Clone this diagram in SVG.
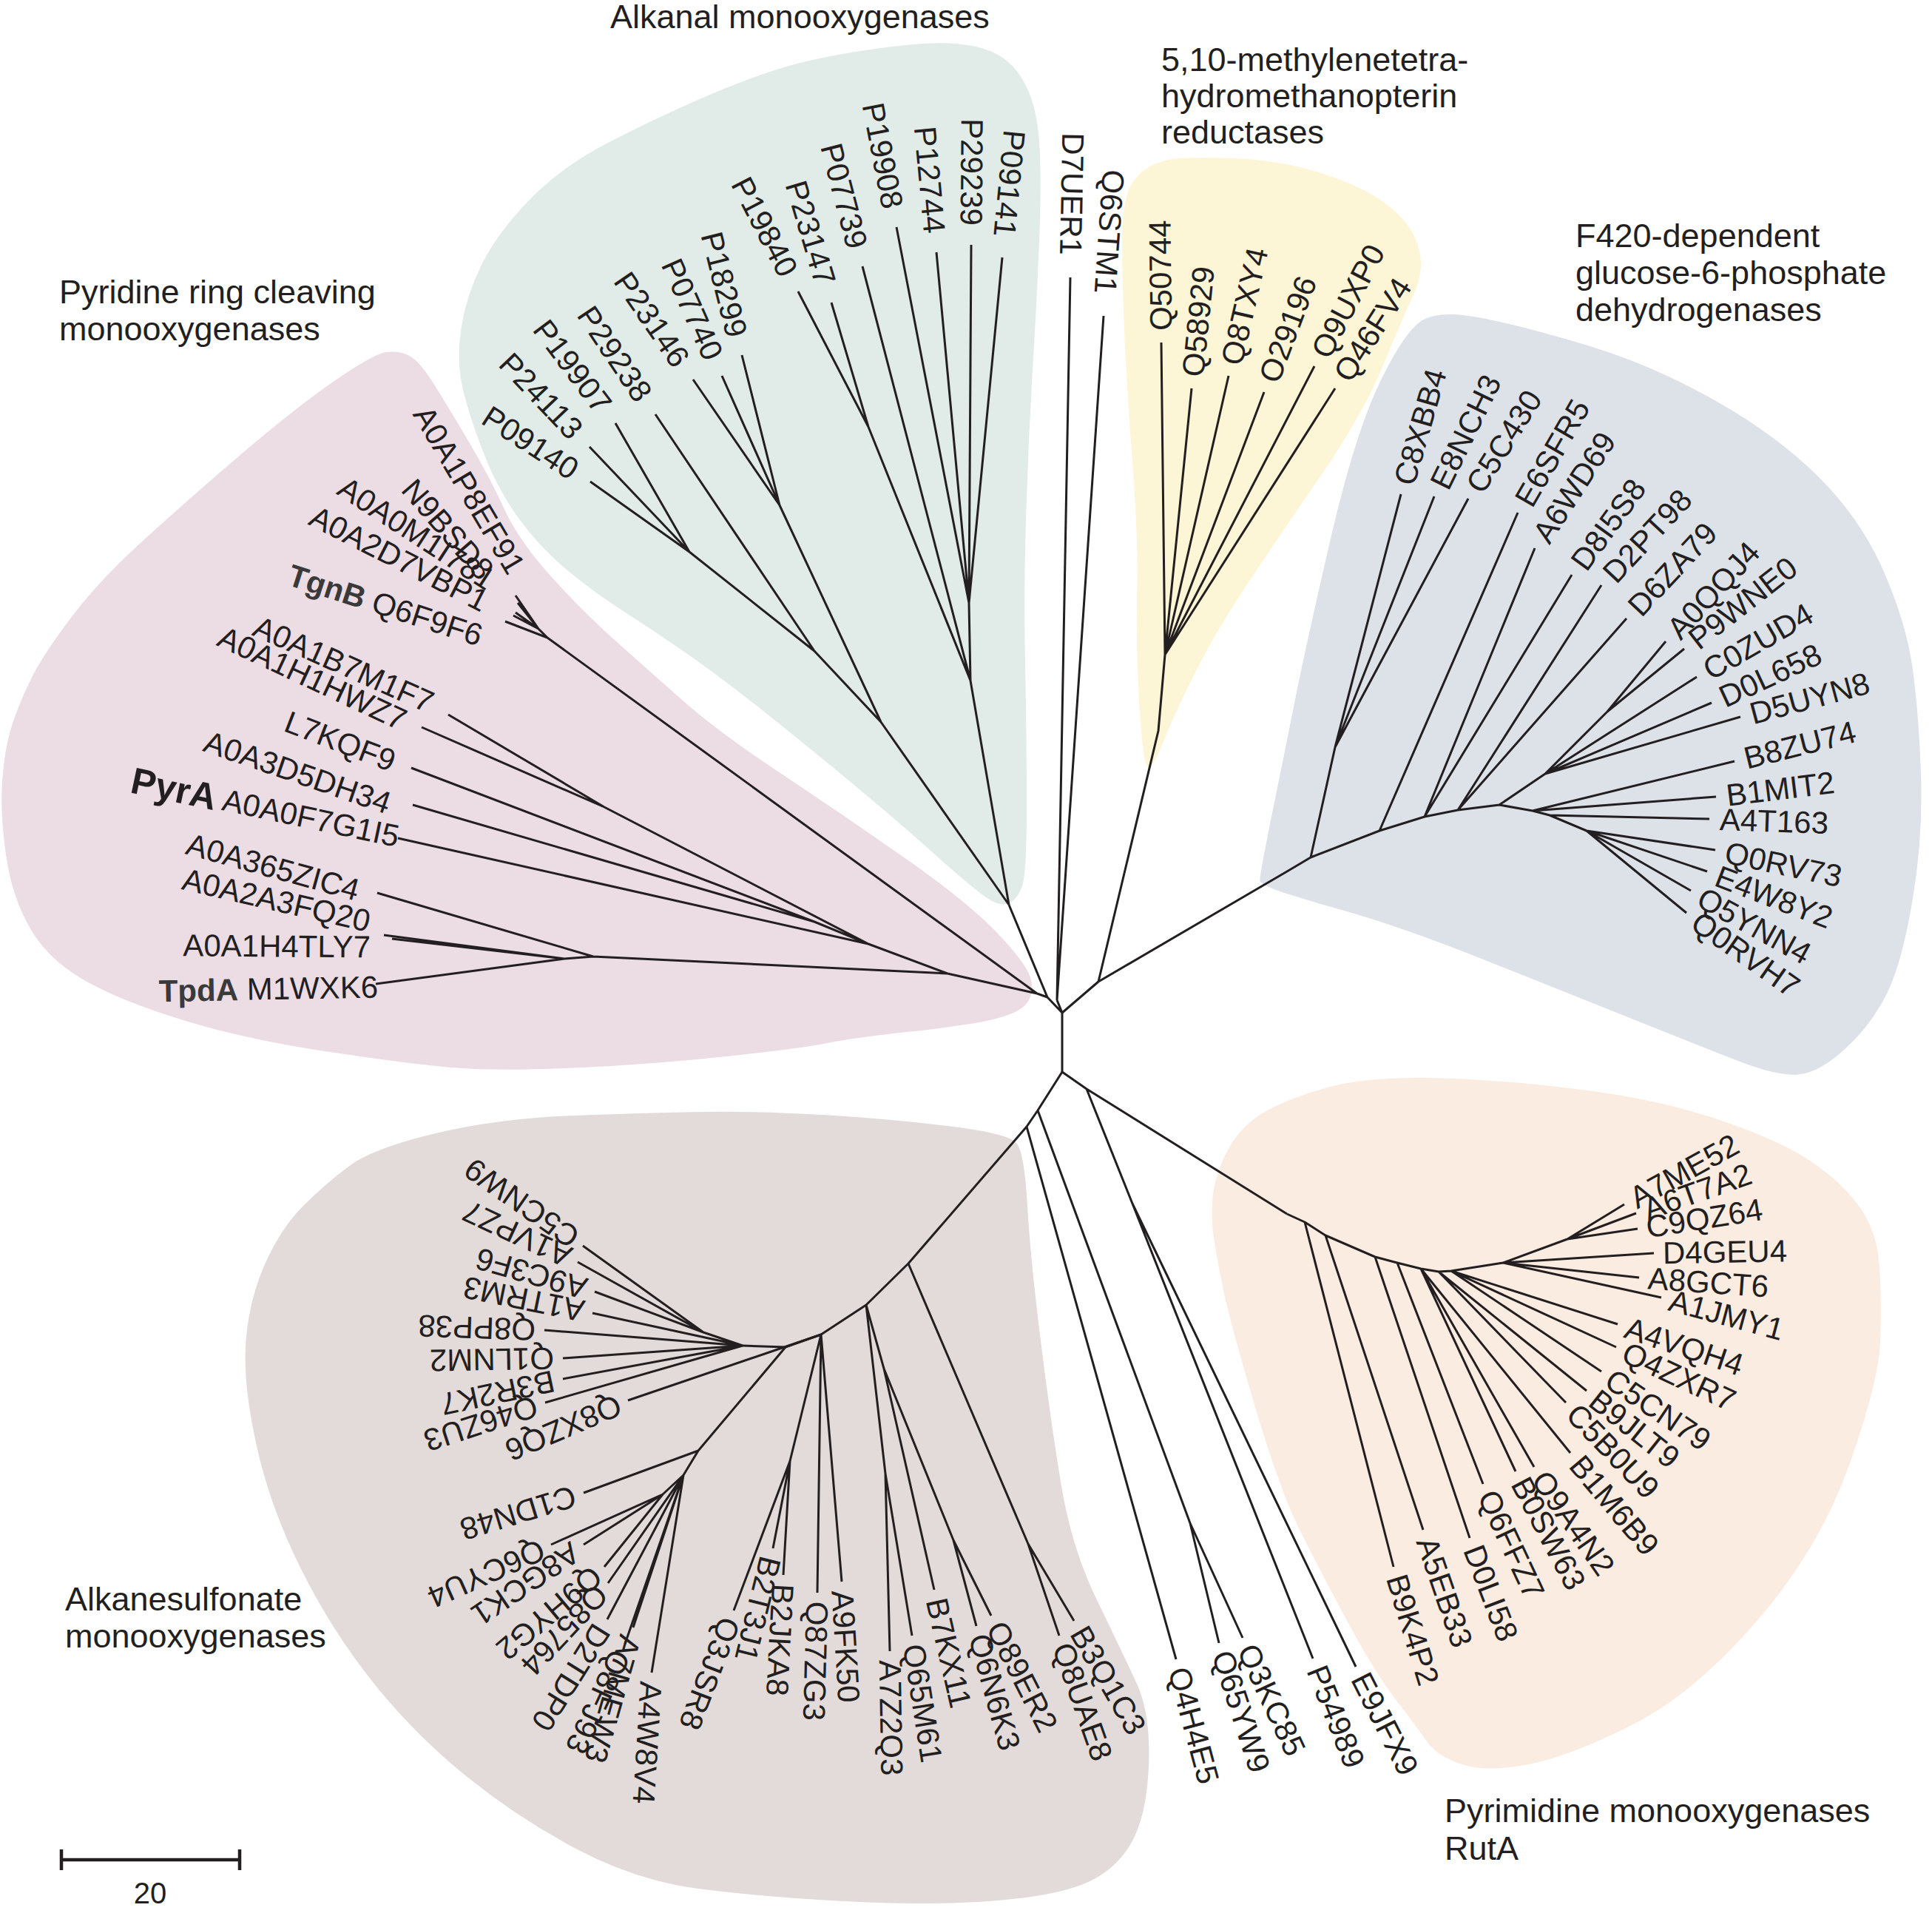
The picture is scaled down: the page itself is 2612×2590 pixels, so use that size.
<svg xmlns="http://www.w3.org/2000/svg" width="2612" height="2590" viewBox="0 0 2612 2590">
<style>
.lb{font-family:"Liberation Sans",Arial,sans-serif;font-size:42px;fill:#231f20;dominant-baseline:central}
.e{text-anchor:end}
.tt{font-family:"Liberation Sans",Arial,sans-serif;font-size:45px;fill:#231f20}
.br{fill:none;stroke:#231f20;stroke-width:3;stroke-linejoin:round}
.bd{font-weight:bold;fill:#3a3a3a}
</style>
<rect width="2612" height="2590" fill="#ffffff"/>
<g id="clade-areas">
<path id="area-pyridine" fill="#ecdce4" d="M8.5 1158.5 Q0 1102 3 1056 Q6 1010 18 975 Q30 940 46 910 Q62 880 96 835 Q130 790 177 746 Q224 702 308.5 629 Q393 556 449 517 Q505 478 522.5 476 Q540 474 553.5 481 Q567 488 586.5 519 Q606 550 634 597.5 Q662 645 681.5 687.5 Q701 730 743.5 777.5 Q786 825 833 867 Q880 909 926 949.5 Q972 990 1056.5 1046 Q1141 1102 1225 1161 Q1309 1220 1349.5 1262.5 Q1390 1305 1394 1325 Q1398 1345 1387 1357.5 Q1376 1370 1342.5 1378 Q1309 1386 1230.5 1394.5 Q1152 1403 1118.5 1410 Q1085 1417 982.5 1428 Q880 1439 776.5 1443.5 Q673 1448 617 1443.5 Q561 1439 449 1422.5 Q337 1406 252.5 1380.5 Q168 1355 117.5 1327 Q67 1299 42 1257 Q17 1215 8.5 1158.5 Z"/>
<path id="area-alkanal" fill="#e1ebe7" d="M820 194 Q880 163 940 136.5 Q1000 110 1050 94 Q1100 78 1176.5 67 Q1253 56 1291.5 59 Q1330 62 1352.5 76 Q1375 90 1389 120 Q1403 150 1405.5 200 Q1408 250 1405 325 Q1402 400 1396 500 Q1390 600 1387 700 Q1384 800 1386 900 Q1388 1000 1388 1090 Q1388 1180 1382 1197.5 Q1376 1215 1365 1220.5 Q1354 1226 1337 1215.5 Q1320 1205 1260 1151.5 Q1200 1098 1125 1036.5 Q1050 975 1005 940 Q960 905 920 877.5 Q880 850 841 825 Q802 800 766 770 Q730 740 701.5 701 Q673 662 653.5 611.5 Q634 561 625.5 524.5 Q617 488 623.5 444 Q630 400 651.5 357 Q673 314 716.5 269.5 Q760 225 820 194 Z"/>
<path id="area-methylene" fill="#fcf5d6" d="M1518 303.5 Q1520 270 1526.5 255.5 Q1533 241 1546.5 230.5 Q1560 220 1580 216 Q1600 212 1665 214 Q1730 216 1786 234 Q1842 252 1871 273.5 Q1900 295 1911 317.5 Q1922 340 1921 360 Q1920 380 1909 403 Q1898 426 1870 493.5 Q1842 561 1786 642.5 Q1730 724 1688 787 Q1646 850 1618 905 Q1590 960 1575 997.5 Q1560 1035 1554 1037.5 Q1548 1040 1544 1000 Q1540 960 1538 905 Q1536 850 1537.5 790 Q1539 730 1530.5 617.5 Q1522 505 1519 421 Q1516 337 1518 303.5 Z"/>
<path id="area-f420" fill="#dde1e8" d="M1922 433.5 Q1946 418 2006.5 430.5 Q2067 443 2151 468.5 Q2235 494 2319 541.5 Q2403 589 2459.5 645.5 Q2516 702 2546.5 772 Q2577 842 2585.5 902 Q2594 962 2597 1046 Q2600 1130 2586 1214.5 Q2572 1299 2552 1341 Q2532 1383 2496 1416.5 Q2460 1450 2431.5 1452.5 Q2403 1455 2347 1433 Q2291 1411 2207 1377.5 Q2123 1344 2010.5 1299 Q1898 1254 1819 1231.5 Q1740 1209 1722.5 1202 Q1705 1195 1703.5 1191 Q1702 1187 1721 1094 Q1740 1001 1752 940.5 Q1764 880 1797.5 734.5 Q1831 589 1864.5 519 Q1898 449 1922 433.5 Z"/>
<path id="area-ruta" fill="#fbece1" d="M1653.5 1742 Q1645 1700 1640.5 1670 Q1636 1640 1640.5 1610 Q1645 1580 1662.5 1550 Q1680 1520 1710 1503 Q1740 1486 1791 1471 Q1842 1456 1926 1457 Q2010 1458 2122.5 1471 Q2235 1484 2319 1512 Q2403 1540 2445.5 1568 Q2488 1596 2513 1630 Q2538 1664 2541 1712 Q2544 1760 2542 1814 Q2540 1868 2500 1980.5 Q2460 2093 2375.5 2191 Q2291 2289 2207 2331.5 Q2123 2374 2066.5 2385 Q2010 2396 1976.5 2385 Q1943 2374 1929 2354 Q1915 2334 1887 2297.5 Q1859 2261 1822.5 2193.5 Q1786 2126 1758 2070 Q1730 2014 1696 1899 Q1662 1784 1653.5 1742 Z"/>
<path id="area-alkanesulfonate" fill="#e2dbd9" d="M589 1532 Q673 1512 776.5 1508 Q880 1504 954 1503 Q1028 1502 1112.5 1507 Q1197 1512 1281 1522 Q1365 1532 1375 1546 Q1385 1560 1389 1630 Q1393 1700 1407 1812.5 Q1421 1925 1435 2009 Q1449 2093 1483 2163 Q1517 2233 1536.5 2275 Q1556 2317 1553 2387.5 Q1550 2458 1527.5 2494.5 Q1505 2531 1463 2547.5 Q1421 2564 1337 2570 Q1253 2576 1140.5 2570 Q1028 2564 944 2553 Q860 2542 780.5 2500 Q701 2458 631 2401.5 Q561 2345 505 2275 Q449 2205 407 2121 Q365 2037 346.5 1952.5 Q328 1868 332.5 1812 Q337 1756 358.5 1708 Q380 1660 410 1630 Q440 1600 472.5 1576 Q505 1552 589 1532 Z"/>
</g>
<g id="branches" class="br">
<path d="M1436 1369L1436 1449M1436 1369L1416 1348M1436 1369L1429 1352M1436 1369L1485 1327M1416 1348L1402 1343M1416 1348L1364 1223M1429 1352L1447 375M1429 1352L1492 427"/>
<path d="M1485 1327L1566 988L1575 885M1575 885L1570 463M1575 885L1611 525M1575 885L1661 508M1575 885L1709 530M1575 885L1777 495M1575 885L1805 525"/>
<path d="M1485 1327L1740 1178L1772 1159L1865 1123L1926 1104L1971 1095L2027 1088L2072 1096L2095 1102L2145 1123M1772 1159L1805 1010L1894 668M1805 1010L1939 671M1805 1010L1985 674M1865 1123L2052 693M1926 1104L2075 741M1926 1104L2125 777M1971 1095L2165 791M1971 1095L2199 836M2027 1088L2089 1046L2314 950M2089 1046L2353 969M2089 1046L2294 915M2089 1046L2173 962L2252 867M2173 962L2277 877M2072 1096L2345 1029M2072 1096L2320 1077M2095 1102L2311 1107M2145 1123L2319 1149M2145 1123L2308 1178M2145 1123L2286 1204M2145 1123L2280 1234"/>
<path d="M1364 1223L1312 920L1310 815L1355 348M1310 815L1313 331M1310 815L1266 341M1310 815L1212 307M1312 920L1166 360M1312 920L1174 577L1124 409M1174 577L1079 394M1364 1223L1191 976L1054 683L1003 480M1054 683L976 508M1054 683L937 513M1191 976L1101 880L886 560M1101 880L932 746L832 572M932 746L797 604M932 746L798 651"/>
<path d="M1402 1343L740 862L683 840M740 862L728 850L697 805M728 850L700 815M728 850L697 828M728 850L694 832M1402 1343L1281 1316L802 1293L510 1207M802 1293L763 1296L519 1264M763 1296L530 1269M763 1296L508 1330M1281 1316L1174 1276L1101 1246L556 1038M1101 1246L558 1088M1174 1276L817 1091L606 966M817 1091L570 983M1174 1276L538 1133"/>
<path d="M1436 1449L1403 1501L1388 1523L1228 1708L1171 1764L1110 1804L1062 1821L1004 1819M1403 1501L1609 2059L1648 2221M1609 2059L1680 2214M1388 1523L1590 2243M1436 1449L1469 1472L1740 1641M1469 1472L1531 1627L1775 2242M1531 1627L1833 2253"/>
<path d="M1740 1641L1764 1652L1792 1670L1859 1699L1889 1707L1921 1715L1945 1719L1962 1718L2032 1707L2119 1675M1764 1652L1884 2118M1792 1670L1924 2068M1859 1699L1987 2079M1889 1707L2005 2006M1921 1715L2049 1989M1921 1715L2074 1983M1921 1715L2123 1964M1945 1719L2117 1896M1945 1719L2145 1880M1962 1718L2165 1854M1962 1718L2185 1821M1962 1718L2187 1790M2032 1707L2246 1754M2032 1707L2216 1727M2032 1707L2236 1694M2119 1675L2214 1661M2119 1675L2212 1640M2119 1675L2196 1628"/>
<path d="M1228 1708L1390 2087L1452 2191M1390 2087L1432 2211M1171 1764L1197 1992L1203 2232M1197 1992L1233 2211M1171 1764L1195 1850L1263 2149M1195 1850L1289 2082L1320 2198M1289 2082L1340 2184M1110 1804L1068 1975L992 2177M1068 1975L1045 2093M1068 1975L1059 2129M1110 1804L1105 2153M1110 1804L1138 2138M1110 1804L849 1893M1062 1821L944 1961L789 2018M944 1961L924 1994L896 2020L745 2088M896 2020L789 2088M896 2020L817 2118M924 1994L822 2140M924 1994L821 2189M924 1994L845 2222M924 1994L856 2200M924 1994L881 2261M1004 1819L951 1801L788 1684M951 1801L781 1706M951 1801L804 1746M1004 1819L801 1775M1004 1819L736 1798M1004 1819L761 1836M1004 1819L761 1864M1004 1819L737 1896"/>
</g>
<g id="titles" class="tt">
<text x="825" y="38">Alkanal monooxygenases</text>
<text x="1570" y="96">5,10-methylenetetra-</text>
<text x="1570" y="145">hydromethanopterin</text>
<text x="1570" y="194">reductases</text>
<text x="80" y="410">Pyridine ring cleaving</text>
<text x="80" y="460">monooxygenases</text>
<text x="2130" y="334">F420-dependent</text>
<text x="2130" y="384">glucose-6-phosphate</text>
<text x="2130" y="434">dehydrogenases</text>
<text x="88" y="2177">Alkanesulfonate</text>
<text x="88" y="2227">monooxygenases</text>
<text x="1953" y="2463">Pyrimidine monooxygenases</text>
<text x="1953" y="2514">RutA</text>
</g>
<g id="scale-bar">
<path d="M83 2514H324M83 2500V2528M324 2500V2528" stroke="#231f20" stroke-width="4.5" fill="none"/>
<text x="203" y="2573" text-anchor="middle" font-family="Liberation Sans, Arial, sans-serif" font-size="40" fill="#231f20">20</text>
</g>
<g id="leaves" class="lb">
<g id="n-Q50744"><text transform="translate(1570 463) rotate(-90.7)" x="16">Q50744</text></g>
<g id="n-Q58929"><text transform="translate(1611 525) rotate(-84.3)" x="16">Q58929</text></g>
<g id="n-Q8TXY4"><text transform="translate(1661 508) rotate(-77.1)" x="16">Q8TXY4</text></g>
<g id="n-O29196"><text transform="translate(1709 530) rotate(-69.3)" x="16">O29196</text></g>
<g id="n-Q9UXP0"><text transform="translate(1777 495) rotate(-62.6)" x="16">Q9UXP0</text></g>
<g id="n-Q46FV4"><text transform="translate(1805 525) rotate(-57.4)" x="16">Q46FV4</text></g>
<g id="n-D7UER1"><text class="e" transform="translate(1447 375) rotate(91.1)" x="-30">D7UER1</text></g>
<g id="n-Q6STM1"><text class="e" transform="translate(1492 427) rotate(93.9)" x="-30">Q6STM1</text></g>
<g id="n-P09141"><text class="e" transform="translate(1355 348) rotate(95.5)" x="-28">P09141</text></g>
<g id="n-P29239"><text class="e" transform="translate(1313 331) rotate(90.4)" x="-26">P29239</text></g>
<g id="n-P12744"><text class="e" transform="translate(1266 341) rotate(84.7)" x="-26">P12744</text></g>
<g id="n-P19908"><text class="e" transform="translate(1212 307) rotate(79.1)" x="-26">P19908</text></g>
<g id="n-P07739"><text class="e" transform="translate(1166 360) rotate(75.4)" x="-26">P07739</text></g>
<g id="n-P23147"><text class="e" transform="translate(1124 409) rotate(73.4)" x="-26">P23147</text></g>
<g id="n-P19840"><text class="e" transform="translate(1079 394) rotate(62.6)" x="-26">P19840</text></g>
<g id="n-P18299"><text class="e" transform="translate(1003 480) rotate(75.9)" x="-26">P18299</text></g>
<g id="n-P07740"><text class="e" transform="translate(976 508) rotate(66)" x="-26">P07740</text></g>
<g id="n-P23146"><text class="e" transform="translate(937 513) rotate(55.5)" x="-26">P23146</text></g>
<g id="n-P29238"><text class="e" transform="translate(886 560) rotate(56.1)" x="-26">P29238</text></g>
<g id="n-P19907"><text class="e" transform="translate(832 572) rotate(53)" x="-24">P19907</text></g>
<g id="n-P24113"><text class="e" transform="translate(797 604) rotate(46.4)" x="-24">P24113</text></g>
<g id="n-P09140"><text class="e" transform="translate(798 651) rotate(33)" x="-24">P09140</text></g>
<g id="n-A0A1P8EF91"><text class="e" transform="translate(699 772) rotate(59.5)">A0A1P8EF91</text></g>
<g id="n-N9BSD8"><text class="e" transform="translate(659 777) rotate(49)">N9BSD8</text></g>
<g id="n-A0A0M1I781"><text class="e" transform="translate(665 787) rotate(33)">A0A0M1I781</text></g>
<g id="n-A0A2D7VBP1"><text class="e" transform="translate(657 815) rotate(27)">A0A2D7VBP1</text></g>
<g id="n-Q6F9F6"><text class="e" transform="translate(651 860) rotate(18)"><tspan class="bd">TgnB</tspan> Q6F9F6</text></g>
<g id="n-A0A1B7M1F7"><text class="e" transform="translate(584 951) rotate(24)">A0A1B7M1F7</text></g>
<g id="n-A0A1H1HWZ7"><text class="e" transform="translate(547 975) rotate(25)">A0A1H1HWZ7</text></g>
<g id="n-L7KQF9"><text class="e" transform="translate(533 1030) rotate(21)">L7KQF9</text></g>
<g id="n-A0A3D5DH34"><text class="e" transform="translate(527 1087) rotate(19)">A0A3D5DH34</text></g>
<g id="n-A0A0F7G1I5"><text class="e" transform="translate(539 1131) rotate(12)"><tspan font-weight="bold" font-size="50">PyrA</tspan> A0A0F7G1I5</text></g>
<g id="n-A0A365ZIC4"><text class="e" transform="translate(485 1204) rotate(15.4)">A0A365ZIC4</text></g>
<g id="n-A0A2A3FQ20"><text class="e" transform="translate(500 1246) rotate(13)">A0A2A3FQ20</text></g>
<g id="n-A0A1H4TLY7"><text class="e" transform="translate(501 1280) rotate(0.5)">A0A1H4TLY7</text></g>
<g id="n-M1WXK6"><text class="e" transform="translate(511 1334) rotate(-1)"><tspan class="bd">TpdA</tspan> M1WXK6</text></g>
<g id="n-C8XBB4"><text transform="translate(1894 668) rotate(-74)" x="14">C8XBB4</text></g>
<g id="n-E8NCH3"><text transform="translate(1939 671) rotate(-64)" x="14">E8NCH3</text></g>
<g id="n-C5C430"><text transform="translate(1985 674) rotate(-58)" x="14">C5C430</text></g>
<g id="n-E6SFR5"><text transform="translate(2052 693) rotate(-60)" x="14">E6SFR5</text></g>
<g id="n-A6WD69"><text transform="translate(2075 741) rotate(-57)" x="14">A6WD69</text></g>
<g id="n-D8I5S8"><text transform="translate(2125 777) rotate(-54)" x="14">D8I5S8</text></g>
<g id="n-D2PT98"><text transform="translate(2165 791) rotate(-47)" x="14">D2PT98</text></g>
<g id="n-D6ZA79"><text transform="translate(2199 836) rotate(-47)" x="14">D6ZA79</text></g>
<g id="n-A0QQJ4"><text transform="translate(2252 867) rotate(-47)" x="14">A0QQJ4</text></g>
<g id="n-P9WNE0"><text transform="translate(2277 877) rotate(-38)" x="14">P9WNE0</text></g>
<g id="n-C0ZUD4"><text transform="translate(2294 915) rotate(-30)" x="14">C0ZUD4</text></g>
<g id="n-D0L658"><text transform="translate(2314 950) rotate(-25)" x="14">D0L658</text></g>
<g id="n-D5UYN8"><text transform="translate(2353 969) rotate(-15)" x="14">D5UYN8</text></g>
<g id="n-B8ZU74"><text transform="translate(2345 1029) rotate(-14)" x="14">B8ZU74</text></g>
<g id="n-B1MIT2"><text transform="translate(2320 1077) rotate(-7)" x="14">B1MIT2</text></g>
<g id="n-A4T163"><text transform="translate(2311 1107) rotate(2)" x="14">A4T163</text></g>
<g id="n-Q0RV73"><text transform="translate(2319 1149) rotate(12)" x="14">Q0RV73</text></g>
<g id="n-E4W8Y2"><text transform="translate(2308 1178) rotate(21)" x="14">E4W8Y2</text></g>
<g id="n-Q5YNN4"><text transform="translate(2286 1204) rotate(29)" x="14">Q5YNN4</text></g>
<g id="n-Q0RVH7"><text transform="translate(2280 1234) rotate(35)" x="14">Q0RVH7</text></g>
<g id="n-A7ME52"><text transform="translate(2196 1628) rotate(-29)" x="12">A7ME52</text></g>
<g id="n-A6T7A2"><text transform="translate(2212 1640) rotate(-19.5)" x="12">A6T7A2</text></g>
<g id="n-C9QZ64"><text transform="translate(2214 1661) rotate(-9)" x="12">C9QZ64</text></g>
<g id="n-D4GEU4"><text transform="translate(2236 1694) rotate(-1)" x="12">D4GEU4</text></g>
<g id="n-A8GCT6"><text transform="translate(2216 1727) rotate(4)" x="12">A8GCT6</text></g>
<g id="n-A1JMY1"><text transform="translate(2246 1754) rotate(15)" x="12">A1JMY1</text></g>
<g id="n-A4VQH4"><text transform="translate(2187 1790) rotate(18.5)" x="12">A4VQH4</text></g>
<g id="n-Q4ZXR7"><text transform="translate(2185 1821) rotate(25)" x="12">Q4ZXR7</text></g>
<g id="n-C5CN79"><text transform="translate(2165 1854) rotate(34)" x="12">C5CN79</text></g>
<g id="n-B9JLT9"><text transform="translate(2145 1880) rotate(38.5)" x="12">B9JLT9</text></g>
<g id="n-C5B0U9"><text transform="translate(2117 1896) rotate(46)" x="12">C5B0U9</text></g>
<g id="n-B1M6B9"><text transform="translate(2123 1964) rotate(50)" x="12">B1M6B9</text></g>
<g id="n-Q9A4N2"><text transform="translate(2074 1983) rotate(55)" x="12">Q9A4N2</text></g>
<g id="n-B0SW63"><text transform="translate(2049 1989) rotate(62)" x="12">B0SW63</text></g>
<g id="n-Q6FFZ7"><text transform="translate(2005 2006) rotate(65)" x="12">Q6FFZ7</text></g>
<g id="n-D0LI58"><text transform="translate(1987 2079) rotate(69)" x="12">D0LI58</text></g>
<g id="n-A5EB33"><text transform="translate(1924 2068) rotate(71)" x="12">A5EB33</text></g>
<g id="n-B9K4P2"><text transform="translate(1884 2118) rotate(73)" x="12">B9K4P2</text></g>
<g id="n-Q4H4E5"><text transform="translate(1590 2243) rotate(75)" x="12">Q4H4E5</text></g>
<g id="n-Q65YW9"><text transform="translate(1648 2221) rotate(72)" x="12">Q65YW9</text></g>
<g id="n-Q3KC85"><text transform="translate(1680 2214) rotate(65)" x="12">Q3KC85</text></g>
<g id="n-P54989"><text transform="translate(1775 2242) rotate(68.4)" x="12">P54989</text></g>
<g id="n-E9JFX9"><text transform="translate(1833 2253) rotate(63)" x="12">E9JFX9</text></g>
<g id="n-C5CNW9"><text transform="translate(788 1684) rotate(215)" x="12">C5CNW9</text></g>
<g id="n-A1VPZ7"><text transform="translate(781 1706) rotate(205)" x="12">A1VPZ7</text></g>
<g id="n-A9C3F6"><text transform="translate(804 1746) rotate(196)" x="12">A9C3F6</text></g>
<g id="n-A1TRM3"><text transform="translate(801 1775) rotate(191.5)" x="12">A1TRM3</text></g>
<g id="n-Q8PP38"><text transform="translate(736 1798) rotate(182)" x="12">Q8PP38</text></g>
<g id="n-Q1LNM2"><text transform="translate(761 1836) rotate(179)" x="12">Q1LNM2</text></g>
<g id="n-B3R2K7"><text transform="translate(761 1864) rotate(168)" x="12">B3R2K7</text></g>
<g id="n-Q46ZU3"><text transform="translate(737 1896) rotate(162)" x="12">Q46ZU3</text></g>
<g id="n-Q8XZQ6"><text transform="translate(849 1893) rotate(157)" x="12">Q8XZQ6</text></g>
<g id="n-C1DN48"><text transform="translate(789 2018) rotate(163)" x="12">C1DN48</text></g>
<g id="n-Q6CYU4"><text transform="translate(745 2088) rotate(156)" x="12">Q6CYU4</text></g>
<g id="n-A8GCK1"><text transform="translate(789 2088) rotate(146)" x="12">A8GCK1</text></g>
<g id="n-Q9HYG2"><text transform="translate(817 2118) rotate(140)" x="12">Q9HYG2</text></g>
<g id="n-Q85764"><text transform="translate(822 2140) rotate(133)" x="12">Q85764</text></g>
<g id="n-D2TDP0"><text transform="translate(821 2189) rotate(122)" x="12">D2TDP0</text></g>
<g id="n-Q8FJ93"><text transform="translate(845 2222) rotate(115)" x="12">Q8FJ93</text></g>
<g id="n-A7MEW3"><text transform="translate(856 2200) rotate(106)" x="12">A7MEW3</text></g>
<g id="n-A4W8V4"><text transform="translate(881 2261) rotate(93.5)" x="12">A4W8V4</text></g>
<g id="n-Q3JSR8"><text transform="translate(992 2177) rotate(111)" x="12">Q3JSR8</text></g>
<g id="n-B2T3J1"><text transform="translate(1045 2093) rotate(104)" x="12">B2T3J1</text></g>
<g id="n-B2JKA8"><text transform="translate(1059 2129) rotate(93)" x="12">B2JKA8</text></g>
<g id="n-Q87ZG3"><text transform="translate(1105 2153) rotate(91.5)" x="12">Q87ZG3</text></g>
<g id="n-A9FK50"><text transform="translate(1138 2138) rotate(86.5)" x="12">A9FK50</text></g>
<g id="n-A7Z2Q3"><text transform="translate(1203 2232) rotate(89)" x="12">A7Z2Q3</text></g>
<g id="n-Q65M61"><text transform="translate(1233 2211) rotate(81)" x="12">Q65M61</text></g>
<g id="n-B7KX11"><text transform="translate(1263 2149) rotate(77)" x="12">B7KX11</text></g>
<g id="n-Q6N6K3"><text transform="translate(1320 2198) rotate(74.5)" x="12">Q6N6K3</text></g>
<g id="n-Q89ER2"><text transform="translate(1340 2184) rotate(63)" x="12">Q89ER2</text></g>
<g id="n-Q8UAE8"><text transform="translate(1432 2211) rotate(70.5)" x="12">Q8UAE8</text></g>
<g id="n-B3Q1C3"><text transform="translate(1452 2191) rotate(60)" x="12">B3Q1C3</text></g>
</g>
</svg>
